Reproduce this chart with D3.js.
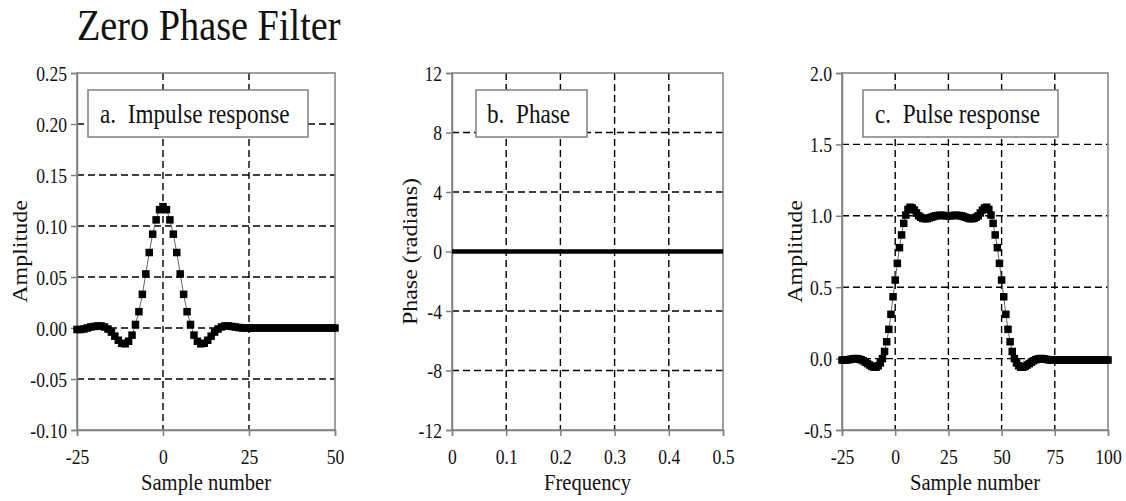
<!DOCTYPE html>
<html>
<head>
<meta charset="utf-8">
<script src="https://cdn.jsdelivr.net/npm/d3@7/dist/d3.min.js"></script>
<style>
  html, body { margin: 0; padding: 0; background: #fff; }
  svg text { white-space: pre; font-family: "Liberation Serif", serif; }
</style>
</head>
<body>
<svg id="chart" width="1126" height="501"></svg>
<script>
// ---------- Data ----------
const titleText = "Zero Phase Filter";

// Panel a: impulse response, samples -25..50
const impulseSamples = d3.range(-25, 51);
const impulseValues = [
  -0.0015, -0.0015, -0.001, 0.0, 0.001, 0.0015, 0.002, 0.002, 0.001, -0.001,
  -0.004, -0.008, -0.012, -0.015, -0.0155, -0.013, -0.007, 0.0035, 0.016, 0.033,
  0.053, 0.074, 0.092, 0.106, 0.116, 0.119, 0.116, 0.106, 0.092, 0.074,
  0.053, 0.033, 0.016, 0.0035, -0.007, -0.013, -0.0155, -0.015, -0.012, -0.008,
  -0.004, -0.001, 0.001, 0.002, 0.002, 0.0015, 0.001, 0.0005, 0.0, 0.0,
  0, 0, 0, 0, 0, 0, 0, 0, 0, 0,
  0, 0, 0, 0, 0, 0, 0, 0, 0, 0,
  0, 0, 0, 0, 0, 0
];
const impulseXTicks = [-25, 0, 25, 50];
const impulseYTicks = [-0.10, -0.05, 0.00, 0.05, 0.10, 0.15, 0.20, 0.25];

// Panel b: phase
const phaseFreq = [0, 0.02, 0.04, 0.06, 0.08, 0.10, 0.12, 0.14, 0.16, 0.18, 0.20, 0.22, 0.24,
  0.26, 0.28, 0.30, 0.32, 0.34, 0.36, 0.38, 0.40, 0.42, 0.44, 0.46, 0.48, 0.50];
const phaseValues = [0, 0, 0, 0, 0, 0, 0, 0, 0, 0, 0, 0, 0,
  0, 0, 0, 0, 0, 0, 0, 0, 0, 0, 0, 0, 0];
const phaseXTicks = [0, 0.1, 0.2, 0.3, 0.4, 0.5];
const phaseYTicks = [-12, -8, -4, 0, 4, 8, 12];

// Panel c: pulse response, samples -25..100
const pulseSamples = d3.range(-25, 101);
const pulseValues = [
  -0.01, -0.01, -0.01, -0.008, -0.005, -0.002, 0.0, 0.0, -0.003, -0.008,
  -0.015, -0.025, -0.035, -0.045, -0.055, -0.06, -0.06, -0.05, -0.03, 0.0,
  0.05, 0.118, 0.205, 0.31, 0.433, 0.55, 0.667, 0.777, 0.866, 0.947,
  1.005, 1.045, 1.06, 1.055, 1.04, 1.02, 1.0, 0.99, 0.982, 0.98,
  0.98, 0.985, 0.99, 0.995, 1.0, 1.002, 1.003, 1.003, 1.002, 1.0,
  1.0, 1.0, 1.002, 1.003, 1.003, 1.002, 1.0, 0.995, 0.99, 0.985,
  0.98, 0.98, 0.982, 0.99, 1.0, 1.02, 1.04, 1.055, 1.06, 1.045,
  1.005, 0.947, 0.866, 0.777, 0.667, 0.55, 0.433, 0.31, 0.205, 0.118,
  0.05, 0.0, -0.03, -0.05, -0.06, -0.06, -0.055, -0.045, -0.035, -0.025,
  -0.015, -0.008, -0.003, 0.0, 0.0, -0.002, -0.005, -0.008, -0.01, -0.01,
  -0.01, -0.01, -0.01, -0.01, -0.01, -0.01, -0.01, -0.01, -0.01, -0.01,
  -0.01, -0.01, -0.01, -0.01, -0.01, -0.01, -0.01, -0.01, -0.01, -0.01,
  -0.01, -0.01, -0.01, -0.01, -0.01, -0.01
];
const pulseXTicks = [-25, 0, 25, 50, 75, 100];
const pulseYTicks = [-0.5, 0.0, 0.5, 1.0, 1.5, 2.0];

// ---------- Drawing ----------
const svg = d3.select("#chart");
const SX = 0.86;
const INK = "#111";
const FRAME = "#808080";
const hyph = s => s.replace(/\u2212/g, "-");

function hText(g, str, x, y, size, anchor, sx) {
  return g.append("text")
    .attr("transform", `translate(${x},${y}) scale(${sx || SX},1)`)
    .attr("text-anchor", anchor || "start")
    .attr("font-size", size)
    .attr("fill", INK)
    .text(str);
}

hText(svg, titleText, 77, 40, 44, "start", 0.87);

const panels = [
  {
    xs: impulseSamples, ys: impulseValues, xd: [-25, 50], yd: [-0.10, 0.25],
    xt: impulseXTicks, yt: impulseYTicks, left: 77, right: 335,
    fx: d => hyph(d3.format("d")(d)), fy: d => hyph(d3.format(".2f")(d)),
    xlab: "Sample number", ylab: "Amplitude", ylabX: 20,
    label: "a.  Impulse response", box: [88, 308], labX: 100, kind: "dots"
  },
  {
    xs: phaseFreq, ys: phaseValues, xd: [0, 0.5], yd: [-12, 12],
    xt: phaseXTicks, yt: phaseYTicks, left: 452, right: 723,
    fx: d => d === 0 ? "0" : d3.format(".1f")(d), fy: d => hyph(d3.format("d")(d)),
    xlab: "Frequency", ylab: "Phase (radians)", ylabX: 410,
    label: "b.  Phase", box: [476, 587], labX: 487, kind: "line"
  },
  {
    xs: pulseSamples, ys: pulseValues, xd: [-25, 100], yd: [-0.5, 2.0],
    xt: pulseXTicks, yt: pulseYTicks, left: 842, right: 1108,
    fx: d => hyph(d3.format("d")(d)), fy: d => hyph(d3.format(".1f")(d)),
    xlab: "Sample number", ylab: "Amplitude", ylabX: 795,
    label: "c.  Pulse response", box: [863, 1058], labX: 875, kind: "dots"
  }
];

const TOP = 73, BOTTOM = 430;

panels.forEach(p => {
  const x = d3.scaleLinear().domain(p.xd).range([p.left, p.right]);
  const y = d3.scaleLinear().domain(p.yd).range([BOTTOM, TOP]);
  const g = svg.append("g");

  const grid = g.append("g").attr("stroke", "#000").attr("stroke-width", 1.4)
    .attr("stroke-dasharray", "7,4").attr("fill", "none");
  p.yt.filter(t => t !== p.yd[0] && t !== p.yd[1]).forEach(t => {
    grid.append("line").attr("x1", p.left).attr("x2", p.right)
      .attr("y1", y(t)).attr("y2", y(t));
  });
  p.xt.filter(t => t !== p.xd[0] && t !== p.xd[1]).forEach(t => {
    grid.append("line").attr("y1", TOP).attr("y2", BOTTOM)
      .attr("x1", x(t)).attr("x2", x(t));
  });

  g.append("rect").attr("x", p.left).attr("y", TOP)
    .attr("width", p.right - p.left).attr("height", BOTTOM - TOP)
    .attr("fill", "none").attr("stroke", FRAME).attr("stroke-width", 1.5);

  const ax = g.append("g").attr("transform", `translate(0,${BOTTOM})`)
    .call(d3.axisBottom(x).tickValues(p.xt).tickSize(6).tickFormat(p.fx));
  const ay = g.append("g").attr("transform", `translate(${p.left},0)`)
    .call(d3.axisLeft(y).tickValues(p.yt).tickSize(6).tickFormat(p.fy));
  [ax, ay].forEach(a => {
    a.attr("font-family", null);
    a.select(".domain").attr("stroke", FRAME).attr("stroke-width", 1.5);
    a.selectAll(".tick line").attr("stroke", FRAME).attr("stroke-width", 1.5);
    a.selectAll("text").attr("font-size", 20).attr("fill", INK);
  });
  ax.selectAll("text").attr("y", 0).attr("dy", 0)
    .attr("transform", "translate(0,34) scale(0.88,1)");
  ay.selectAll("text").attr("x", 0).attr("dy", "0.35em")
    .attr("transform", "translate(-10,0) scale(0.88,1)");

  hText(g, p.xlab, (p.left + p.right) / 2, 490, 24, "middle");
  g.append("text")
    .attr("transform", `translate(${p.ylabX},${(TOP + BOTTOM) / 2}) rotate(-90) scale(1,${SX})`)
    .attr("text-anchor", "middle").attr("dy", "0.35em")
    .attr("font-size", 24).attr("fill", INK).text(p.ylab);

  const pts = p.xs.map((d, i) => [d, p.ys[i]]);
  const line = d3.line().x(d => x(d[0])).y(d => y(d[1]));
  if (p.kind === "line") {
    g.append("path").datum(pts).attr("d", line)
      .attr("fill", "none").attr("stroke", "#000").attr("stroke-width", 4.5);
  } else {
    g.append("path").datum(pts).attr("d", line)
      .attr("fill", "none").attr("stroke", "#666").attr("stroke-width", 1);
    const s = 7.5;
    g.append("g").selectAll("rect").data(pts).join("rect")
      .attr("x", d => x(d[0]) - s / 2).attr("y", d => y(d[1]) - s / 2)
      .attr("width", s).attr("height", s).attr("fill", "#000");
  }

  g.append("rect").attr("x", p.box[0]).attr("y", 90)
    .attr("width", p.box[1] - p.box[0]).attr("height", 47)
    .attr("fill", "#fff").attr("stroke", FRAME).attr("stroke-width", 1.5);
  hText(g, p.label, p.labX, 123, 27, "start");
});
</script>
</body>
</html>
